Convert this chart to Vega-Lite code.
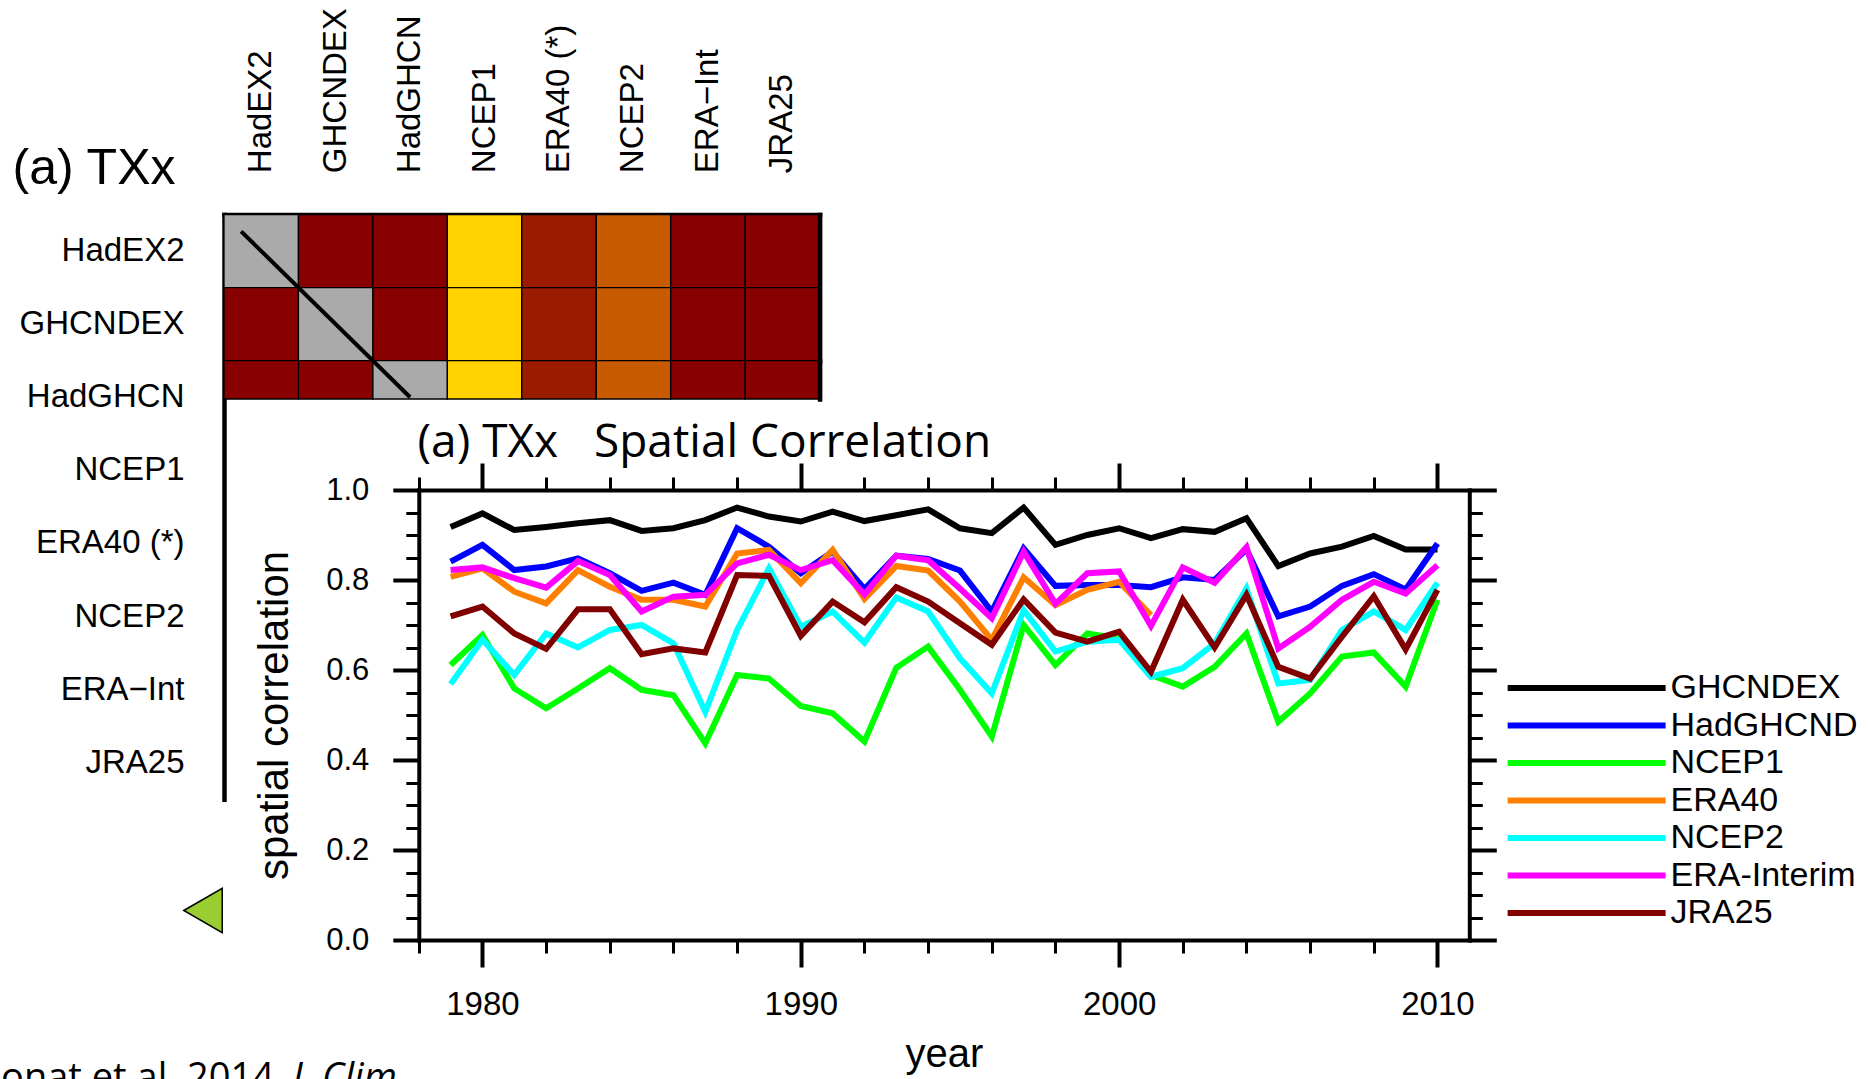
{
  "$schema": "https://vega.github.io/schema/vega-lite/v6.json",
  "width": 1868,
  "height": 1079,
  "autosize": {"type": "none"},
  "padding": 0,
  "background": "white",
  "config": {
    "view": {"stroke": null},
    "axis": {"grid": false, "labelColor": "black", "titleColor": "black", "domainColor": "black", "tickColor": "black", "titleFontWeight": "normal", "labelOverlap": false, "labelFlush": false}
  },
  "datasets": {
    "cells": [
      {"row": "HadEX2", "col": "HadEX2", "r": 1.0},
      {"row": "HadEX2", "col": "GHCNDEX", "r": 0.95},
      {"row": "HadEX2", "col": "HadGHCN", "r": 0.95},
      {"row": "HadEX2", "col": "NCEP1", "r": 0.65},
      {"row": "HadEX2", "col": "ERA40 (*)", "r": 0.88},
      {"row": "HadEX2", "col": "NCEP2", "r": 0.83},
      {"row": "HadEX2", "col": "ERA−Int", "r": 0.95},
      {"row": "HadEX2", "col": "JRA25", "r": 0.95},
      {"row": "GHCNDEX", "col": "HadEX2", "r": 0.95},
      {"row": "GHCNDEX", "col": "GHCNDEX", "r": 1.0},
      {"row": "GHCNDEX", "col": "HadGHCN", "r": 0.95},
      {"row": "GHCNDEX", "col": "NCEP1", "r": 0.65},
      {"row": "GHCNDEX", "col": "ERA40 (*)", "r": 0.88},
      {"row": "GHCNDEX", "col": "NCEP2", "r": 0.83},
      {"row": "GHCNDEX", "col": "ERA−Int", "r": 0.95},
      {"row": "GHCNDEX", "col": "JRA25", "r": 0.95},
      {"row": "HadGHCN", "col": "HadEX2", "r": 0.95},
      {"row": "HadGHCN", "col": "GHCNDEX", "r": 0.95},
      {"row": "HadGHCN", "col": "HadGHCN", "r": 1.0},
      {"row": "HadGHCN", "col": "NCEP1", "r": 0.65},
      {"row": "HadGHCN", "col": "ERA40 (*)", "r": 0.88},
      {"row": "HadGHCN", "col": "NCEP2", "r": 0.83},
      {"row": "HadGHCN", "col": "ERA−Int", "r": 0.95},
      {"row": "HadGHCN", "col": "JRA25", "r": 0.95}
    ],
    "series": [
      {"year": 1979, "GHCNDEX": 0.918, "HadGHCND": 0.841, "NCEP1": 0.611, "ERA40": 0.807, "NCEP2": 0.569, "ERA-Interim": 0.822, "JRA25": 0.719},
      {"year": 1980, "GHCNDEX": 0.948, "HadGHCND": 0.878, "NCEP1": 0.678, "ERA40": 0.826, "NCEP2": 0.667, "ERA-Interim": 0.828, "JRA25": 0.741},
      {"year": 1981, "GHCNDEX": 0.911, "HadGHCND": 0.822, "NCEP1": 0.559, "ERA40": 0.774, "NCEP2": 0.589, "ERA-Interim": 0.804, "JRA25": 0.681},
      {"year": 1982, "GHCNDEX": 0.918, "HadGHCND": 0.830, "NCEP1": 0.515, "ERA40": 0.748, "NCEP2": 0.681, "ERA-Interim": 0.783, "JRA25": 0.647},
      {"year": 1983, "GHCNDEX": 0.926, "HadGHCND": 0.848, "NCEP1": 0.559, "ERA40": 0.822, "NCEP2": 0.650, "ERA-Interim": 0.842, "JRA25": 0.735},
      {"year": 1984, "GHCNDEX": 0.933, "HadGHCND": 0.815, "NCEP1": 0.604, "ERA40": 0.785, "NCEP2": 0.689, "ERA-Interim": 0.811, "JRA25": 0.735},
      {"year": 1985, "GHCNDEX": 0.909, "HadGHCND": 0.776, "NCEP1": 0.556, "ERA40": 0.756, "NCEP2": 0.700, "ERA-Interim": 0.730, "JRA25": 0.635},
      {"year": 1986, "GHCNDEX": 0.915, "HadGHCND": 0.794, "NCEP1": 0.544, "ERA40": 0.756, "NCEP2": 0.659, "ERA-Interim": 0.763, "JRA25": 0.648},
      {"year": 1987, "GHCNDEX": 0.933, "HadGHCND": 0.767, "NCEP1": 0.437, "ERA40": 0.741, "NCEP2": 0.507, "ERA-Interim": 0.767, "JRA25": 0.639},
      {"year": 1988, "GHCNDEX": 0.961, "HadGHCND": 0.915, "NCEP1": 0.589, "ERA40": 0.859, "NCEP2": 0.689, "ERA-Interim": 0.837, "JRA25": 0.811},
      {"year": 1989, "GHCNDEX": 0.941, "HadGHCND": 0.874, "NCEP1": 0.581, "ERA40": 0.867, "NCEP2": 0.826, "ERA-Interim": 0.856, "JRA25": 0.809},
      {"year": 1990, "GHCNDEX": 0.930, "HadGHCND": 0.815, "NCEP1": 0.520, "ERA40": 0.793, "NCEP2": 0.696, "ERA-Interim": 0.822, "JRA25": 0.676},
      {"year": 1991, "GHCNDEX": 0.952, "HadGHCND": 0.863, "NCEP1": 0.504, "ERA40": 0.867, "NCEP2": 0.730, "ERA-Interim": 0.844, "JRA25": 0.752},
      {"year": 1992, "GHCNDEX": 0.931, "HadGHCND": 0.780, "NCEP1": 0.441, "ERA40": 0.758, "NCEP2": 0.661, "ERA-Interim": 0.768, "JRA25": 0.706},
      {"year": 1993, "GHCNDEX": 0.944, "HadGHCND": 0.854, "NCEP1": 0.605, "ERA40": 0.831, "NCEP2": 0.761, "ERA-Interim": 0.854, "JRA25": 0.784},
      {"year": 1994, "GHCNDEX": 0.957, "HadGHCND": 0.847, "NCEP1": 0.652, "ERA40": 0.821, "NCEP2": 0.730, "ERA-Interim": 0.844, "JRA25": 0.752},
      {"year": 1995, "GHCNDEX": 0.915, "HadGHCND": 0.821, "NCEP1": 0.556, "ERA40": 0.752, "NCEP2": 0.626, "ERA-Interim": 0.781, "JRA25": 0.704},
      {"year": 1996, "GHCNDEX": 0.904, "HadGHCND": 0.730, "NCEP1": 0.452, "ERA40": 0.667, "NCEP2": 0.548, "ERA-Interim": 0.715, "JRA25": 0.656},
      {"year": 1997, "GHCNDEX": 0.961, "HadGHCND": 0.870, "NCEP1": 0.700, "ERA40": 0.806, "NCEP2": 0.733, "ERA-Interim": 0.863, "JRA25": 0.757},
      {"year": 1998, "GHCNDEX": 0.878, "HadGHCND": 0.787, "NCEP1": 0.611, "ERA40": 0.744, "NCEP2": 0.641, "ERA-Interim": 0.747, "JRA25": 0.683},
      {"year": 1999, "GHCNDEX": 0.900, "HadGHCND": 0.789, "NCEP1": 0.681, "ERA40": 0.778, "NCEP2": 0.663, "ERA-Interim": 0.815, "JRA25": 0.663},
      {"year": 2000, "GHCNDEX": 0.915, "HadGHCND": 0.789, "NCEP1": 0.670, "ERA40": 0.796, "NCEP2": 0.667, "ERA-Interim": 0.819, "JRA25": 0.685},
      {"year": 2001, "GHCNDEX": 0.893, "HadGHCND": 0.784, "NCEP1": 0.589, "ERA40": 0.722, "NCEP2": 0.585, "ERA-Interim": 0.698, "JRA25": 0.596},
      {"year": 2002, "GHCNDEX": 0.913, "HadGHCND": 0.806, "NCEP1": 0.563, "NCEP2": 0.604, "ERA-Interim": 0.828, "JRA25": 0.756},
      {"year": 2003, "GHCNDEX": 0.907, "HadGHCND": 0.800, "NCEP1": 0.607, "NCEP2": 0.659, "ERA-Interim": 0.794, "JRA25": 0.650},
      {"year": 2004, "GHCNDEX": 0.937, "HadGHCND": 0.868, "NCEP1": 0.681, "NCEP2": 0.781, "ERA-Interim": 0.873, "JRA25": 0.767},
      {"year": 2005, "GHCNDEX": 0.831, "HadGHCND": 0.719, "NCEP1": 0.485, "NCEP2": 0.570, "ERA-Interim": 0.648, "JRA25": 0.607},
      {"year": 2006, "GHCNDEX": 0.859, "HadGHCND": 0.741, "NCEP1": 0.548, "NCEP2": 0.578, "ERA-Interim": 0.696, "JRA25": 0.581},
      {"year": 2007, "GHCNDEX": 0.874, "HadGHCND": 0.787, "NCEP1": 0.630, "NCEP2": 0.689, "ERA-Interim": 0.756, "JRA25": 0.674},
      {"year": 2008, "GHCNDEX": 0.898, "HadGHCND": 0.813, "NCEP1": 0.639, "NCEP2": 0.730, "ERA-Interim": 0.796, "JRA25": 0.764},
      {"year": 2009, "GHCNDEX": 0.868, "HadGHCND": 0.779, "NCEP1": 0.563, "NCEP2": 0.689, "ERA-Interim": 0.770, "JRA25": 0.646},
      {"year": 2010, "GHCNDEX": 0.868, "HadGHCND": 0.881, "NCEP1": 0.756, "NCEP2": 0.794, "ERA-Interim": 0.833, "JRA25": 0.778}
    ]
  },
  "layer": [
    {
      "data": {"name": "cells"},
      "transform": [{"filter": {"field": "row", "oneOf": ["HadEX2", "GHCNDEX"]}}],
      "mark": {"type": "rect", "stroke": "black", "strokeWidth": 1.3},
      "encoding": {
        "x": {"field": "col", "type": "nominal", "scale": {"type": "band", "domain": ["HadEX2", "GHCNDEX", "HadGHCN", "NCEP1", "ERA40 (*)", "NCEP2", "ERA−Int", "JRA25"], "range": [224, 819.6], "paddingInner": 0, "paddingOuter": 0}, "axis": null},
        "y": {"field": "row", "type": "nominal", "scale": {"type": "band", "domain": ["HadEX2", "GHCNDEX"], "range": [214.5, 360.7], "paddingInner": 0, "paddingOuter": 0}, "axis": {"orient": "right", "offset": -1048.4, "labels": false, "ticks": false, "tickSize": 0, "domainWidth": 4.5, "domainCap": "square", "title": null}},
        "color": {"condition": {"test": "datum.row === datum.col", "value": "#aaaaaa"}, "field": "r", "type": "quantitative", "scale": {"type": "threshold", "domain": [0.8, 0.85, 0.9], "range": ["#ffd200", "#c85a00", "#9b1b00", "#880000"]}, "legend": null}
      }
    },
    {
      "data": {"name": "cells"},
      "transform": [{"filter": {"field": "row", "oneOf": ["HadGHCN"]}}],
      "mark": {"type": "rect", "stroke": "black", "strokeWidth": 1.3},
      "encoding": {
        "x": {"field": "col", "type": "nominal", "scale": {"type": "band", "domain": ["HadEX2", "GHCNDEX", "HadGHCN", "NCEP1", "ERA40 (*)", "NCEP2", "ERA−Int", "JRA25"], "range": [224, 819.6], "paddingInner": 0, "paddingOuter": 0}, "axis": null},
        "y": {"field": "row", "type": "nominal", "scale": {"type": "band", "domain": ["HadGHCN"], "range": [360.7, 399], "paddingInner": 0, "paddingOuter": 0}, "axis": {"orient": "right", "offset": -1048.4, "labels": false, "ticks": false, "tickSize": 0, "domainWidth": 4.5, "domainCap": "square", "title": null}},
        "color": {"condition": {"test": "datum.row === datum.col", "value": "#aaaaaa"}, "field": "r", "type": "quantitative", "scale": {"type": "threshold", "domain": [0.8, 0.85, 0.9], "range": ["#ffd200", "#c85a00", "#9b1b00", "#880000"]}, "legend": null}
      }
    },
    {
      "data": {"values": [{"from": "HadEX2", "to": "HadGHCN"}]},
      "mark": {"type": "rule", "color": "black", "strokeWidth": 4},
      "encoding": {
        "x": {"field": "from", "type": "nominal", "bandPosition": 0.23, "scale": {"type": "band", "domain": ["HadEX2", "GHCNDEX", "HadGHCN", "NCEP1", "ERA40 (*)", "NCEP2", "ERA−Int", "JRA25"], "range": [224, 819.6], "paddingInner": 0, "paddingOuter": 0}, "axis": {"orient": "top", "offset": -214.5, "ticks": false, "tickSize": 0, "labelAngle": -90, "labelAlign": "left", "labelBaseline": "middle", "labelPadding": 41.8, "labelFont": "Liberation Sans", "labelFontSize": 33, "labelLimit": 0, "domainWidth": 4.5, "domainCap": "square", "title": null}},
        "y": {"field": "from", "type": "nominal", "bandPosition": 0.23, "scale": {"type": "band", "domain": ["HadEX2", "GHCNDEX", "HadGHCN", "NCEP1", "ERA40 (*)", "NCEP2", "ERA−Int", "JRA25"], "range": [214.5, 799.3], "paddingInner": 0, "paddingOuter": 0}, "axis": {"orient": "left", "offset": -224, "ticks": false, "tickSize": 0, "labelPadding": 40, "labelFont": "Liberation Sans", "labelFontSize": 33, "labelLimit": 0, "domainWidth": 4.5, "domainCap": "square", "title": "(a) TXx", "titleAngle": 0, "titleAlign": "left", "titleBaseline": "alphabetic", "titleX": -212, "titleY": 183, "titleFont": "Liberation Sans", "titleFontSize": 50}},
        "x2": {"field": "to"},
        "y2": {"field": "to"}
      }
    },
    {
      "data": {"values": [{"bin": "below range"}]},
      "mark": {"type": "point", "shape": "triangle-left", "filled": true, "fill": "#9acd32", "stroke": "black", "strokeWidth": 1.5, "size": 1971, "opacity": 1},
      "encoding": {
        "x": {"field": "bin", "type": "nominal", "scale": {"type": "point", "domain": ["below range"], "range": [183.3, 222.7]}, "axis": null},
        "y": {"field": "bin", "type": "nominal", "scale": {"type": "point", "domain": ["below range"], "range": [888.3, 932.7]}, "axis": null}
      }
    },
    {
      "data": {"name": "series"},
      "transform": [{"fold": ["GHCNDEX", "HadGHCND", "NCEP1", "ERA40", "NCEP2", "ERA-Interim", "JRA25"], "as": ["dataset", "r"]}],
      "mark": {"type": "line", "strokeWidth": 6},
      "encoding": {
        "x": {"field": "year", "type": "quantitative", "scale": {"domain": [1978, 2011], "range": [418.8, 1469.3], "nice": false, "zero": false}, "axis": {"orient": "bottom", "offset": -139, "values": [1980, 1990, 2000, 2010], "format": "d", "tickSize": 27, "tickWidth": 4, "domainWidth": 4, "domainCap": "square", "labelFont": "Liberation Sans", "labelFontSize": 33, "labelPadding": 21, "title": "year", "titleFont": "Liberation Sans", "titleFontSize": 40, "titleX": 944, "titleY": 126, "titleAlign": "center", "titleBaseline": "alphabetic"}},
        "y": {"field": "r", "type": "quantitative", "scale": {"domain": [0, 1], "range": [940, 490], "nice": false, "zero": false}, "axis": {"orient": "left", "offset": -418.8, "values": [0, 0.2, 0.4, 0.6, 0.8, 1], "format": ".1f", "tickSize": 26, "tickWidth": 4, "domainWidth": 4, "domainCap": "square", "labelFont": "Liberation Sans", "labelFontSize": 31, "labelPadding": 24, "title": "spatial correlation", "titleFont": "Liberation Sans", "titleFontSize": 42, "titleAngle": 270, "titleX": -131.5, "titleY": 715, "titleAlign": "center", "titleBaseline": "alphabetic"}},
        "color": {"field": "dataset", "type": "nominal", "scale": {"domain": ["GHCNDEX", "HadGHCND", "NCEP1", "ERA40", "NCEP2", "ERA-Interim", "JRA25"], "range": ["#000000", "#0000ff", "#00ff00", "#ff8000", "#00ffff", "#ff00ff", "#800000"]}, "legend": {"orient": "none", "legendX": 1500.5, "legendY": 671, "title": null, "symbolType": "M-1,0L15,0", "symbolSize": 390, "symbolStrokeWidth": 6, "symbolOffset": 0, "labelFont": "Liberation Sans", "labelFontSize": 34, "labelColor": "black", "labelOffset": 136, "labelLimit": 0, "rowPadding": 3.5, "padding": 0}}
      }
    },
    {
      "data": {"name": "series"},
      "transform": [{"fold": ["GHCNDEX"], "as": ["dataset", "r"]}],
      "mark": {"type": "point", "opacity": 0},
      "encoding": {
        "x": {"field": "year", "type": "quantitative", "scale": {"domain": [1978, 2011], "range": [418.8, 1469.3], "nice": false, "zero": false}, "axis": {"orient": "top", "offset": -490, "values": [1980, 1990, 2000, 2010], "labels": false, "tickSize": 27, "tickWidth": 4, "domainWidth": 4, "domainCap": "square", "title": "(a) TXx\u00a0\u00a0\u00a0Spatial Correlation", "titleFont": "Open Sans", "titleFontSize": 46, "titleX": 417, "titleY": -34, "titleAlign": "left", "titleBaseline": "alphabetic", "titleAngle": 0}},
        "y": {"field": "r", "type": "quantitative", "scale": {"domain": [0, 1], "range": [940, 490], "nice": false, "zero": false}, "axis": {"orient": "right", "offset": -398.7, "values": [0, 0.2, 0.4, 0.6, 0.8, 1], "labels": false, "tickSize": 27, "tickWidth": 4, "domainWidth": 4, "domainCap": "square", "title": null}}
      }
    },
    {
      "data": {"name": "series"},
      "transform": [{"fold": ["GHCNDEX"], "as": ["dataset", "r"]}],
      "mark": {"type": "point", "opacity": 0},
      "encoding": {
        "x": {"field": "year", "type": "quantitative", "scale": {"domain": [1978, 2011], "range": [418.8, 1469.3], "nice": false, "zero": false}, "axis": {"orient": "bottom", "offset": -139, "values": [1978, 1982, 1984, 1986, 1988, 1992, 1994, 1996, 1998, 2002, 2004, 2006, 2008], "labels": false, "domain": false, "tickSize": 13, "tickWidth": 3, "title": "Donat et al. 2014,", "titleFont": "Open Sans", "titleFontSize": 38, "titleX": -27, "titleY": 149, "titleAlign": "left", "titleBaseline": "alphabetic", "titleAngle": 0}},
        "y": {"field": "r", "type": "quantitative", "scale": {"domain": [0, 1], "range": [940, 490], "nice": false, "zero": false}, "axis": {"orient": "left", "offset": -418.8, "values": [0.05, 0.1, 0.15, 0.25, 0.3, 0.35, 0.45, 0.5, 0.55, 0.65, 0.7, 0.75, 0.85, 0.9, 0.95], "labels": false, "domain": false, "tickSize": 13, "tickWidth": 3, "title": null}}
      }
    },
    {
      "data": {"name": "series"},
      "transform": [{"fold": ["GHCNDEX"], "as": ["dataset", "r"]}],
      "mark": {"type": "point", "opacity": 0},
      "encoding": {
        "x": {"field": "year", "type": "quantitative", "scale": {"domain": [1978, 2011], "range": [418.8, 1469.3], "nice": false, "zero": false}, "axis": {"orient": "top", "offset": -490, "values": [1978, 1982, 1984, 1986, 1988, 1992, 1994, 1996, 1998, 2002, 2004, 2006, 2008], "labels": false, "domain": false, "tickSize": 13, "tickWidth": 3, "title": "J. Clim.", "titleFont": "Open Sans", "titleFontStyle": "italic", "titleFontSize": 38, "titleX": 292, "titleY": 599, "titleAlign": "left", "titleBaseline": "alphabetic", "titleAngle": 0}},
        "y": {"field": "r", "type": "quantitative", "scale": {"domain": [0, 1], "range": [940, 490], "nice": false, "zero": false}, "axis": {"orient": "right", "offset": -398.7, "values": [0.05, 0.1, 0.15, 0.25, 0.3, 0.35, 0.45, 0.5, 0.55, 0.65, 0.7, 0.75, 0.85, 0.9, 0.95], "labels": false, "domain": false, "tickSize": 13, "tickWidth": 3, "title": null}}
      }
    }
  ],
  "resolve": {
    "scale": {"x": "independent", "y": "independent", "color": "independent"},
    "axis": {"x": "independent", "y": "independent"},
    "legend": {"color": "independent"}
  }
}
